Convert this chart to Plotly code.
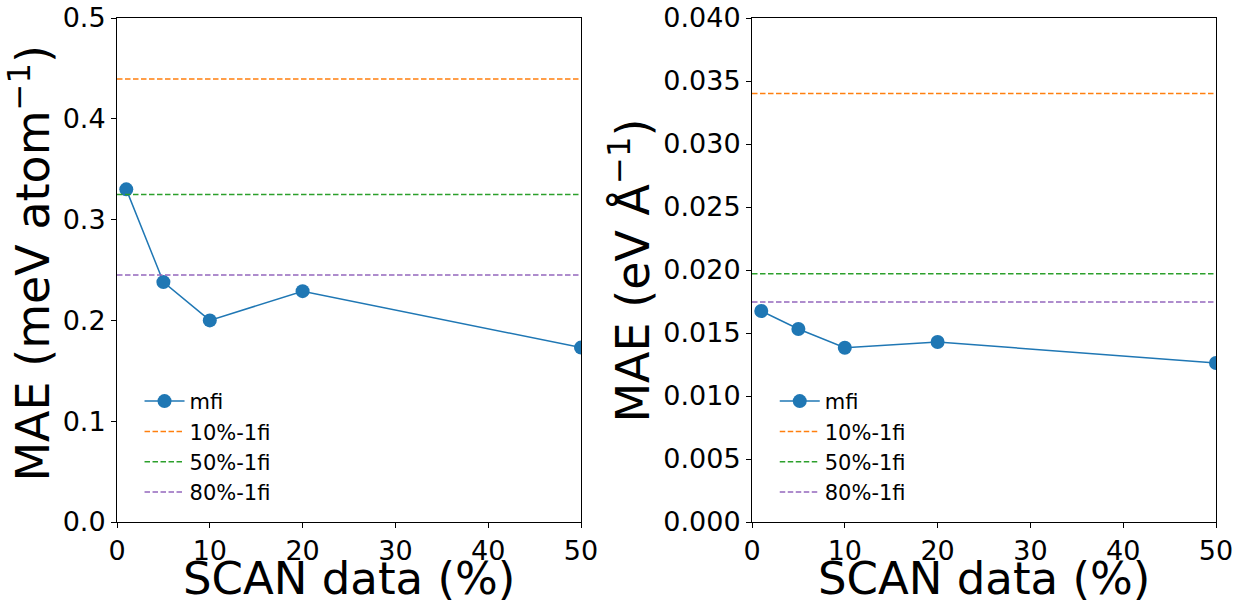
import plotly.graph_objects as go
from plotly.subplots import make_subplots

scan_pct = [1, 5, 10, 20, 50]
energy_mfi = [0.330, 0.238, 0.200, 0.229, 0.173]
force_mfi = [0.01675, 0.01532, 0.01383, 0.01428, 0.01262]
baseline_labels = ["10%-1fi", "50%-1fi", "80%-1fi"]
energy_baselines = [0.4395, 0.325, 0.245]
force_baselines = [0.0340, 0.01970, 0.01746]
baseline_colors = ["#ff7f0e", "#2ca02c", "#9467bd"]
x_range = [0, 50]
x_title = "SCAN data (%)"
y_titles = ["MAE (meV atom<sup>−1</sup>)", "MAE (eV Å<sup>−1</sup>)"]

FONT = "DejaVu Sans"
W, H = 1236, 602
L, R, T, B = 117, 20, 18, 80
pw = W - L - R
fig = make_subplots(rows=1, cols=2)
fig.update_layout(xaxis=dict(domain=[0, (581 - L) / pw]),
                  xaxis2=dict(domain=[(752 - L) / pw, 1]))

for col, (vals, bases, leg) in enumerate(
        [(energy_mfi, energy_baselines, "legend"), (force_mfi, force_baselines, "legend2")], start=1):
    fig.add_trace(go.Scatter(x=scan_pct, y=vals, mode="lines+markers", name="mfi",
                             line=dict(color="#1f77b4", width=1.5),
                             marker=dict(size=14, color="#1f77b4"),
                             legend=leg), row=1, col=col)
    for lab, b, c in zip(baseline_labels, bases, baseline_colors):
        fig.add_trace(go.Scatter(x=x_range, y=[b, b], mode="lines", name=lab,
                                 line=dict(color=c, width=1.5, dash="5.5px,2.5px"),
                                 legend=leg), row=1, col=col)

axis_common = dict(showline=True, linecolor="black", linewidth=1, mirror=True,
                   ticks="outside", ticklen=5, tickcolor="black", showgrid=False,
                   zeroline=False, automargin=False,
                   tickfont=dict(family=FONT, size=27, color="black"))
for col in (1, 2):
    fig.update_xaxes(range=x_range, tickvals=[0, 10, 20, 30, 40, 50],
                     row=1, col=col, **axis_common)
fig.update_yaxes(range=[0, 0.5], tickvals=[0, 0.1, 0.2, 0.3, 0.4, 0.5], tickformat=".1f",
                 row=1, col=1, **axis_common)
fig.update_yaxes(range=[0, 0.04], dtick=0.005, tickformat=".3f",
                 row=1, col=2, **axis_common)

plot_h = H - T - B
for i, (xr, yr) in enumerate([("x domain", "y domain"), ("x2 domain", "y2 domain")]):
    fig.add_annotation(text=x_title, xref=xr, yref=yr, x=0.5, y=-(551 - 522) / plot_h,
                       xanchor="center", yanchor="top", showarrow=False,
                       borderpad=0, font=dict(family=FONT, size=45, color="black"))
    fig.add_annotation(text=y_titles[i], xref=xr, yref=yr,
                       x=[(60.6 - 117) / 464, (660.6 - 752) / 464][i],
                       y=[(522 - 263) / plot_h, (522 - 271) / plot_h][i],
                       xanchor="right", yanchor="middle", textangle=-90, showarrow=False,
                       borderpad=0, font=dict(family=FONT, size=46, color="black"))

legend_common = dict(font=dict(family=FONT, size=21, color="black"), bgcolor="rgba(0,0,0,0)",
                     xanchor="left", yanchor="bottom", tracegroupgap=0, itemwidth=40)
fig.update_layout(
    width=W, height=H,
    margin=dict(l=L, r=R, t=T, b=B),
    plot_bgcolor="white", paper_bgcolor="white",
    font=dict(family=FONT, color="black"),
    legend=dict(x=0.0205, y=0.018, **legend_common),
    legend2=dict(x=0.5985, y=0.018, **legend_common),
)
fig.write_html("out.html", config={"displayModeBar": False},
               post_script="document.body.style.margin='0';document.body.style.overflow='hidden';")
